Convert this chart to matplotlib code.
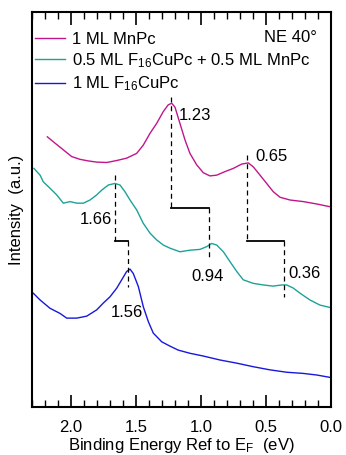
import matplotlib
matplotlib.use("Agg")
import matplotlib.pyplot as plt
from matplotlib.ticker import MultipleLocator

plt.rcParams['font.family'] = ['Liberation Sans', 'DejaVu Sans']
plt.rcParams['mathtext.fontset'] = 'custom'
plt.rcParams['mathtext.rm'] = 'Liberation Sans'
plt.rcParams['mathtext.it'] = 'Liberation Sans:italic'

# binding energy (eV) and intensity (a.u., curves offset)
mnpc_e = [2.182, 2.123, 2.059, 1.995, 1.931, 1.867, 1.802, 1.725, 1.648, 1.572,
          1.495, 1.444, 1.392, 1.341, 1.290, 1.252, 1.225, 1.200, 1.162, 1.123,
          1.085, 1.033, 0.982, 0.931, 0.879, 0.815, 0.752, 0.687, 0.636, 0.598,
          0.546, 0.495, 0.444, 0.392, 0.315, 0.213, 0.110, 0.008]
mnpc_i = [68.4, 66.8, 65.1, 63.4, 62.7, 62.3, 62.0, 61.9, 62.4, 63.0,
          64.2, 66.3, 69.3, 71.8, 74.8, 76.5, 76.9, 75.9, 71.8, 67.6,
          64.2, 61.3, 59.3, 58.5, 58.7, 59.6, 60.4, 61.5, 61.8, 60.8,
          58.7, 56.6, 54.5, 53.1, 52.4, 52.0, 51.4, 50.7]

mix_e = [2.285, 2.238, 2.213, 2.162, 2.110, 2.059, 2.008, 1.956, 1.905, 1.854,
         1.802, 1.764, 1.713, 1.662, 1.623, 1.585, 1.546, 1.495, 1.444, 1.392,
         1.341, 1.290, 1.238, 1.162, 1.085, 1.008, 0.956, 0.918, 0.879, 0.828,
         0.777, 0.725, 0.675, 0.598, 0.521, 0.444, 0.379, 0.341, 0.290, 0.238,
         0.162, 0.085, 0.008]
mix_i = [60.4, 58.7, 57.0, 55.4, 53.7, 51.6, 52.0, 51.6, 51.6, 52.4,
         53.7, 54.9, 56.2, 56.6, 56.2, 54.5, 52.4, 49.9, 46.5, 44.0,
         42.3, 41.0, 40.2, 39.3, 39.7, 39.9, 40.6, 41.4, 41.0, 39.3,
         36.8, 34.3, 32.2, 31.3, 30.9, 30.6, 30.9, 30.9, 30.1, 28.8,
         27.1, 25.8, 25.2]

cupc_e = [2.290, 2.238, 2.162, 2.085, 2.033, 1.956, 1.879, 1.802, 1.752, 1.700,
          1.648, 1.610, 1.572, 1.546, 1.521, 1.482, 1.444, 1.405, 1.367, 1.302,
          1.238, 1.175, 1.085, 0.982, 0.854, 0.725, 0.598, 0.469, 0.341, 0.213,
          0.110, 0.008]
cupc_i = [28.8, 27.1, 25.0, 23.7, 22.5, 22.5, 23.0, 24.6, 26.3, 27.9,
          30.1, 32.2, 34.3, 34.9, 33.8, 30.5, 25.4, 21.6, 18.7, 16.5,
          15.4, 14.4, 13.6, 12.9, 11.9, 11.1, 10.2, 9.4, 8.8, 8.5,
          8.1, 7.5]

labels = ['1 ML MnPc', r'0.5 ML F$_{16}$CuPc + 0.5 ML MnPc', r'1 ML F$_{16}$CuPc']
colors = ['#c0168c', '#1ca397', '#1818dc']

# peak markers: (energy from, energy to, top of first dash, bracket level, bottom of second dash)
shifts = [(1.23, 0.94, 78.5, 50.4, 37.7),
          (0.65, 0.36, 63.8, 42.0, 27.8),
          (1.66, 1.56, 58.7, 42.0, 30.4)]
peak_labels = [('1.23', 1.169, 73.9, 'left'), ('0.65', 0.585, 63.4, 'left'),
               ('1.66', 1.687, 47.5, 'right'), ('0.94', 0.946, 33.0, 'center'),
               ('0.36', 0.328, 33.7, 'left'), ('1.56', 1.574, 23.9, 'center')]

fig = plt.figure(figsize=(3.46, 4.55), dpi=100)
ax = fig.add_axes([32 / 346, 48 / 455, 299 / 346, 395 / 455])

for e, i, lab, c in zip([mnpc_e, mix_e, cupc_e], [mnpc_i, mix_i, cupc_i], labels, colors):
    ax.plot(e, i, color=c, lw=1.0, label=lab)

for e1, e2, top, mid, bot in shifts:
    ax.plot([e1, e1], [top, mid], color='k', lw=0.9, ls=(0, (4, 3)))
    ax.plot([e1, e2], [mid, mid], color='k', lw=1.3)
    ax.plot([e2, e2], [mid, bot], color='k', lw=0.9, ls=(0, (4, 3)))

for txt, x, y, ha in peak_labels:
    ax.text(x, y, txt, ha=ha, va='center', fontsize=12)

ax.text(0.108, 93.5, 'NE 40°', ha='right', va='center', fontsize=12)

ax.legend(loc='upper left', bbox_to_anchor=(0.01, 0.95), frameon=False, fontsize=12,
          handlelength=1.8, handletextpad=0.4, labelspacing=0.27, borderpad=0, borderaxespad=0)

ax.set_xlim(2.3, 0.0)
ax.set_ylim(0, 100)
ax.xaxis.set_major_locator(MultipleLocator(0.5))
ax.xaxis.set_minor_locator(MultipleLocator(0.1))
ax.set_yticks([])
ax.tick_params(axis='x', which='both', direction='in', top=True, labelsize=12, pad=9)
ax.tick_params(axis='x', which='major', length=9, width=1.2)
ax.tick_params(axis='x', which='minor', length=5, width=1.0)
for s in ax.spines.values():
    s.set_linewidth(1.5)

ax.set_xlabel(r'Binding Energy Ref to E$_\mathrm{F}$  (eV)', fontsize=12, labelpad=1)
ax.set_ylabel('Intensity  (a.u.)', fontsize=12, labelpad=6)

fig.savefig('out.png', dpi=100)
